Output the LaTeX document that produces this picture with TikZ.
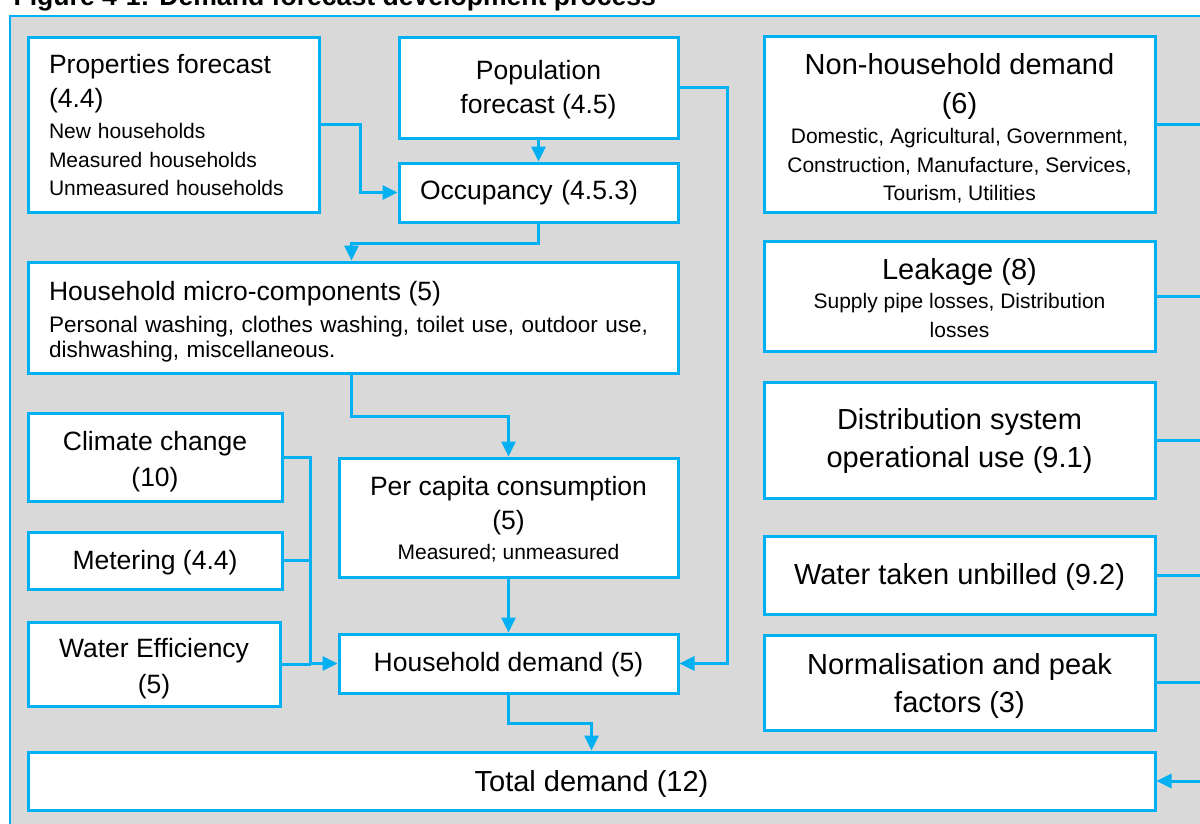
\documentclass[tikz,border=0pt]{standalone}
\usepackage{fontspec}
\setmainfont{Liberation Sans}
\usepackage{xcolor}
\usetikzlibrary{arrows.meta, positioning}
\definecolor{flowblue}{HTML}{00B0F0}
\definecolor{panelgrey}{HTML}{D9D9D9}
\newcommand{\fbig}{\fontsize{29}{38}\selectfont}
\newcommand{\fmid}{\fontsize{26.5}{34}\selectfont}
\newcommand{\fsml}{\fontsize{21}{28}\selectfont}
\newcommand{\tstrut}[1]{\rule{0pt}{#1pt}}

\begin{document}
\begin{tikzpicture}[
      x=1pt, y=-1pt,
      font=\fmid,
      >={Triangle[length=15pt,width=14pt]},
      box/.style={
        rectangle,
        draw=flowblue,
        line width=3pt,
        fill=white,
        align=center,
        inner sep=0pt
      },
      link/.style={draw=flowblue, line width=3pt}
    ]
    \useasboundingbox (0,0) rectangle (1200,823);
    \node[anchor=base west, font=\bfseries\fontsize{26.6}{30}\selectfont] (title) at (10,5) {Figure 4-1: Demand forecast development process};
    \draw[draw=flowblue, fill=panelgrey, line width=1.8pt] (10,16) rectangle (1240,860);
    % household side
    \node[box, minimum width=291pt, minimum height=175pt, text width=249pt, align=left, font=\fsml] (props) at (173.5,124.5) {{\fmid Properties forecast}\\[6pt]{\fmid (4.4)}\\[3pt]New households\\[1pt]Measured households\\Unmeasured households};
    \node[box, minimum width=279pt, minimum height=101pt] (pop) at (538.5,87.5) {\tstrut{23.6}Population\\forecast (4.5)};
    \node[box, minimum width=279pt, minimum height=59pt, text width=237pt, align=left] (occ) at (538.5,192.5) {Occupancy (4.5.3)};
    \node[box, minimum width=650pt, minimum height=111pt, text width=608pt, align=left, font=\fontsize{22.5}{25}\selectfont] (micro) at (353,317.5) {\tstrut{27.3}{\fmid Household micro-components (5)}\\[7.5pt]Personal washing, clothes washing, toilet use, outdoor use,\\dishwashing, miscellaneous.};
    \node[box, minimum width=254pt, minimum height=88pt] (climate) at (155,457) {\tstrut{28.6}Climate change\\[2pt](10)};
    \node[box, minimum width=254pt, minimum height=57pt] (meter) at (155,560.5) {\tstrut{23.6}Metering (4.4)};
    \node[box, minimum width=252pt, minimum height=84pt] (weff) at (154,664) {\tstrut{28.6}Water Efficiency\\[2pt](5)};
    \node[box, minimum width=339pt, minimum height=119pt, font=\fsml] (percap) at (508.5,517.5) {\tstrut{23.1}{\fmid Per capita consumption}\\[6pt]{\fmid (5)}\\[2pt]Measured; unmeasured};
    \node[box, minimum width=339pt, minimum height=59pt] (hh) at (508.5,663.5) {\tstrut{21.6}Household demand (5)};
    \node[box, minimum width=1127pt, minimum height=58pt, font=\fbig] (total) at (591.5,781) {\tstrut{26.9}Total demand (12)};
    % non-household side
    \node[box, minimum width=391pt, minimum height=176pt, font=\fsml] (nonhh) at (959.5,124) {\tstrut{30}{\fbig Non-household demand}\\[11pt]{\fbig (6)}\\[2pt]Domestic, Agricultural, Government,\\[1pt]Construction, Manufacture, Services,\\Tourism, Utilities};
    \node[box, minimum width=391pt, minimum height=110pt, font=\fsml] (leak) at (959.5,296) {\tstrut{24.9}{\fbig Leakage (8)}\\[1pt]Supply pipe losses, Distribution\\[1pt]losses};
    \node[box, minimum width=391pt, minimum height=116pt, font=\fbig] (dist) at (959.5,440) {\tstrut{22.9}Distribution system\\operational use (9.1)};
    \node[box, minimum width=391pt, minimum height=78pt, font=\fbig] (wtu) at (959.5,575) {\tstrut{24.9}Water taken unbilled (9.2)};
    \node[box, minimum width=391pt, minimum height=95pt, font=\fbig] (norm) at (959.5,682.5) {\tstrut{27.9}Normalisation and peak\\factors (3)};
    % connectors
    \draw[->, link] (props.east) -- ++(40,0) |- (occ.west);
    \draw[->, link] (pop.south) -- (occ.north);
    \draw[->, link] (occ.south) -- ++(0,20) -| ([xshift=325pt]micro.north west);
    \draw[->, link] ([xshift=325pt]micro.south west) -- ++(0,42) -| (percap.north);
    \draw[->, link] (percap.south) -- (hh.north);
    \draw[->, link] (climate.east) -- ++(27,0) coordinate (effbus) |- (hh.west);
    \draw[link] (meter.east) -- (meter.east -| effbus);
    \draw[link] (weff.east) -- (weff.east -| effbus);
    \draw[->, link] (pop.east) -- ++(48,0) |- (hh.east);
    \draw[->, link] (hh.south) -- ++(0,29) -| (total.north);
    \draw[->, link] (nonhh.east) -- ++(70,0) coordinate (sidebus) |- (total.east);
    \foreach \n in {leak, dist, wtu, norm}
      \draw[link] (\n.east) -- (\n.east -| sidebus);
  \end{tikzpicture}
\end{document}
